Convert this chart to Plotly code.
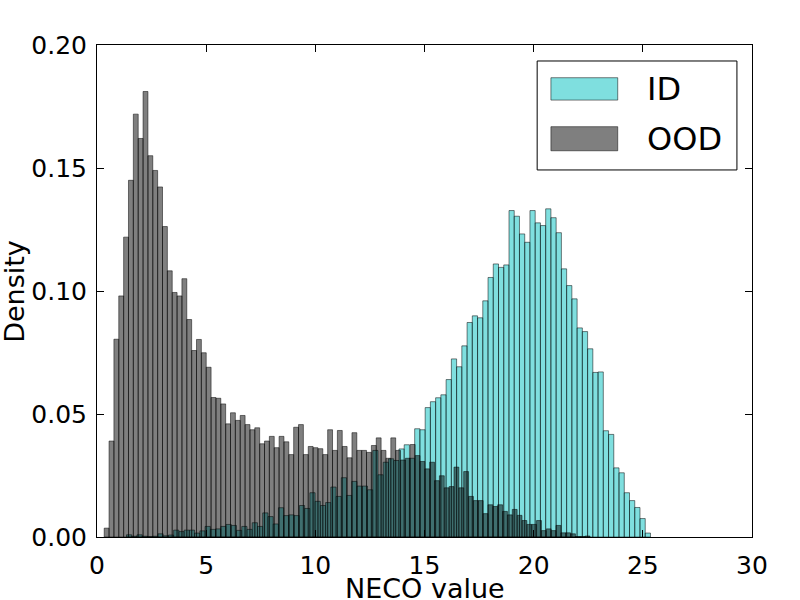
import numpy as np
import plotly.graph_objects as go

# histogram bins (each set has its own 100 bins)
id_start, id_width = 1.35, 0.24
ood_start, ood_width = 0.33, 0.2225

id_density = [
    0.0009, 0.0003, 0.0009, 0.0003, 0.0002, 0.0003, 0.0013, 0.0005, 0.0008, 0.0028,
    0.0022, 0.0028, 0.0028, 0.0016, 0.0025, 0.0043, 0.0031, 0.0033, 0.0043, 0.0051,
    0.0047, 0.0027, 0.0043, 0.0031, 0.0058, 0.0043, 0.0098, 0.0083, 0.0053, 0.0119,
    0.0087, 0.0090, 0.0087, 0.0128, 0.0116, 0.0180, 0.0145, 0.0128, 0.0140, 0.0203,
    0.0165, 0.0241, 0.0169, 0.0226, 0.0207, 0.0207, 0.0192, 0.0352, 0.0253, 0.0304,
    0.0318, 0.0311, 0.0358, 0.0375, 0.0320, 0.0440, 0.0436, 0.0526, 0.0550, 0.0566,
    0.0578, 0.0640, 0.0724, 0.0692, 0.0777, 0.0872, 0.0899, 0.0891, 0.0960, 0.1055,
    0.1110, 0.1096, 0.1106, 0.1327, 0.1304, 0.1232, 0.1198, 0.1327, 0.1277, 0.1266,
    0.1334, 0.1298, 0.1237, 0.1090, 0.1022, 0.0968, 0.0850, 0.0835, 0.0765, 0.0669,
    0.0671, 0.0432, 0.0417, 0.0281, 0.0261, 0.0180, 0.0148, 0.0120, 0.0075, 0.0016,
]

ood_density = [
    0.0036, 0.0390, 0.0804, 0.0980, 0.1219, 0.1450, 0.1719, 0.1620, 0.1811, 0.1550,
    0.1490, 0.1423, 0.1262, 0.1082, 0.0994, 0.0980, 0.1050, 0.0884, 0.0758, 0.0803,
    0.0749, 0.0690, 0.0567, 0.0564, 0.0541, 0.0460, 0.0505, 0.0474, 0.0494, 0.0457,
    0.0436, 0.0444, 0.0379, 0.0390, 0.0409, 0.0363, 0.0409, 0.0387, 0.0335, 0.0446,
    0.0457, 0.0335, 0.0368, 0.0363, 0.0359, 0.0335, 0.0436, 0.0352, 0.0433, 0.0368,
    0.0322, 0.0424, 0.0352, 0.0352, 0.0344, 0.0372, 0.0403, 0.0352, 0.0320, 0.0403,
    0.0352, 0.0313, 0.0320, 0.0376, 0.0331, 0.0307, 0.0277, 0.0304, 0.0229, 0.0249,
    0.0200, 0.0205, 0.0284, 0.0200, 0.0266, 0.0165, 0.0148, 0.0148, 0.0095, 0.0131,
    0.0124, 0.0131, 0.0104, 0.0090, 0.0112, 0.0088, 0.0067, 0.0051, 0.0051, 0.0067,
    0.0026, 0.0033, 0.0026, 0.0047, 0.0017, 0.0017, 0.0013, 0.0002, 0.0002, 0.0004,
]

legend_labels = ["ID", "OOD"]

id_fill = "rgba(0,191,191,0.5)"
ood_fill = "rgba(0,0,0,0.5)"
edge = "rgba(0,0,0,0.5)"
font = "DejaVu Sans"

id_x = id_start + id_width * (np.arange(len(id_density)) + 0.5)
ood_x = ood_start + ood_width * (np.arange(len(ood_density)) + 0.5)

fig = go.Figure()
fig.add_trace(go.Bar(
    x=id_x, y=id_density, width=id_width, name=legend_labels[0],
    marker=dict(color=id_fill, line=dict(color=edge, width=1)),
))
fig.add_trace(go.Bar(
    x=ood_x, y=ood_density, width=ood_width, name=legend_labels[1],
    marker=dict(color=ood_fill, line=dict(color=edge, width=1)),
))

axis_style = dict(
    showline=True, linecolor="black", linewidth=1, mirror="ticks",
    ticks="inside", ticklen=7, tickcolor="black", tickwidth=1,
    showgrid=False, zeroline=False,
    tickfont=dict(family=font, size=25, color="black"),
)
fig.update_xaxes(range=[0, 30], dtick=5, ticklabelstandoff=6, **axis_style)
fig.update_yaxes(range=[0, 0.2], dtick=0.05, tickformat=".2f",
                 ticklabelstandoff=4, **axis_style)

# legend drawn by hand so the patches keep the wide matplotlib look
shapes = [
    dict(type="rect", xref="paper", yref="paper", x0=0.672, x1=0.977,
         y0=0.746, y1=0.9675, line=dict(color="black", width=1),
         fillcolor="white"),
    dict(type="rect", xref="paper", yref="paper", x0=0.693, x1=0.795,
         y0=0.888, y1=0.9335, line=dict(color=edge, width=1),
         fillcolor=id_fill),
    dict(type="rect", xref="paper", yref="paper", x0=0.693, x1=0.795,
         y0=0.785, y1=0.834, line=dict(color=edge, width=1),
         fillcolor=ood_fill),
]
annotations = [
    dict(text=legend_labels[0], xref="paper", yref="paper", x=0.836, y=0.911,
         xanchor="left", yanchor="middle", showarrow=False,
         font=dict(family=font, size=32, color="black")),
    dict(text=legend_labels[1], xref="paper", yref="paper", x=0.836, y=0.808,
         xanchor="left", yanchor="middle", showarrow=False,
         font=dict(family=font, size=32, color="black")),
    dict(text="NECO value", xref="paper", yref="paper", x=0.5, y=-0.105,
         xanchor="center", yanchor="middle", showarrow=False,
         font=dict(family=font, size=27, color="black")),
    dict(text="Density", xref="paper", yref="paper", x=-0.127, y=0.5,
         xanchor="center", yanchor="middle", showarrow=False, textangle=-90,
         font=dict(family=font, size=27, color="black")),
]

fig.update_layout(
    width=800, height=600,
    margin=dict(l=97, r=48, t=45, b=63),
    barmode="overlay",
    showlegend=False,
    plot_bgcolor="white", paper_bgcolor="white",
    shapes=shapes, annotations=annotations,
)

# drop the page's default body margin so the 800x600 figure fits the window
fig.write_html("out.html", config={"displayModeBar": False},
               post_script="document.body.style.margin='0';")
